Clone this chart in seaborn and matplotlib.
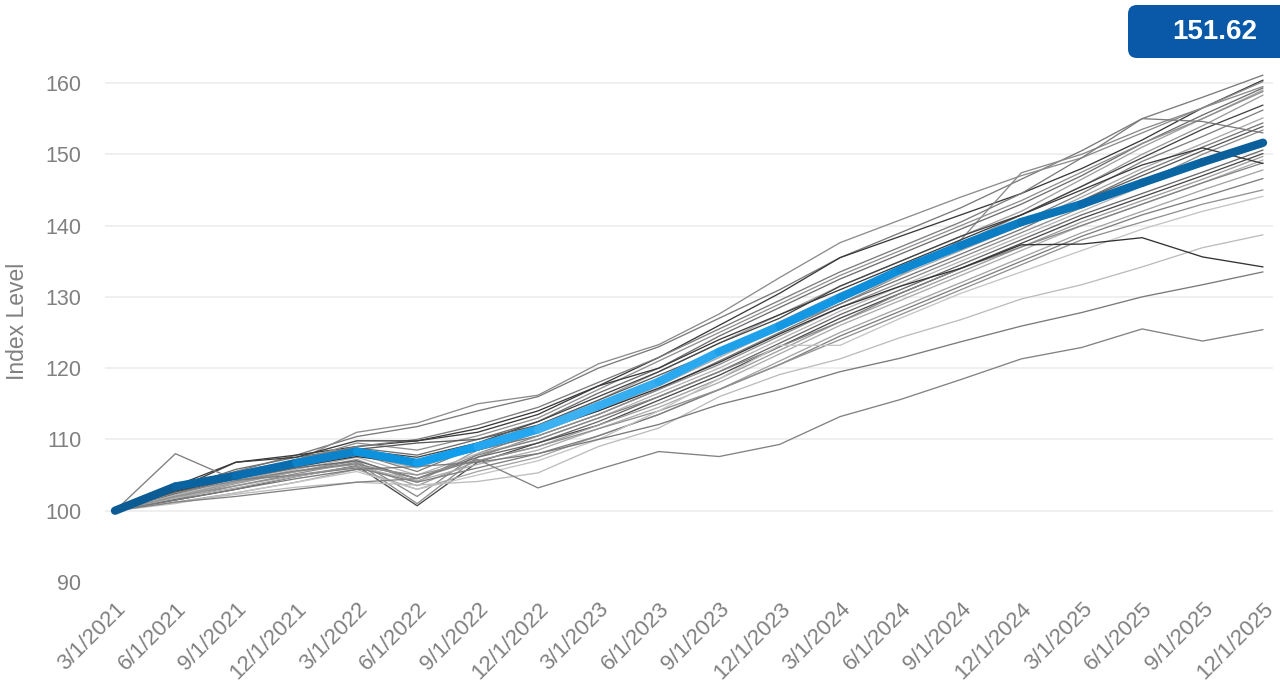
import numpy as np
import pandas as pd
import matplotlib
matplotlib.use("Agg")
import matplotlib.pyplot as plt
import seaborn as sns
from matplotlib.collections import LineCollection
from matplotlib.colors import LinearSegmentedColormap
from matplotlib.patches import FancyBboxPatch

# ---------------- data ----------------
dates = ["3/1/2021", "6/1/2021", "9/1/2021", "12/1/2021", "3/1/2022", "6/1/2022",
         "9/1/2022", "12/1/2022", "3/1/2023", "6/1/2023", "9/1/2023", "12/1/2023",
         "3/1/2024", "6/1/2024", "9/1/2024", "12/1/2024", "3/1/2025", "6/1/2025",
         "9/1/2025", "12/1/2025"]

index_level = [100, 103.4, 104.9, 106.7, 108.3, 106.7, 109.0, 111.4, 114.7, 118.1,
               122.3, 125.9, 129.9, 133.8, 137.2, 140.5, 143.0, 146.0, 148.9, 151.62]

peer_01 = [100, 102.8, 105.5, 107.8, 110.4, 111.8, 114.0, 116.0, 120.0, 123.0, 127.0, 131.0, 135.5, 139.0, 142.5, 146.5, 150.5, 155.0, 158.0, 161.1]
peer_02 = [100, 103.5, 106.8, 107.8, 109.0, 109.8, 111.5, 114.0, 117.5, 121.5, 126.0, 130.5, 135.5, 138.5, 141.5, 144.5, 148.0, 152.0, 156.5, 160.4]
peer_03 = [100, 102.5, 105.0, 107.0, 111.0, 112.3, 115.0, 116.2, 120.6, 123.3, 127.6, 132.7, 137.6, 140.8, 144.0, 147.0, 149.5, 153.0, 156.5, 160.2]
peer_04 = [100, 102.0, 104.0, 105.5, 107.0, 102.0, 108.0, 111.0, 115.0, 118.5, 122.0, 125.5, 129.0, 133.0, 138.0, 147.4, 150.0, 153.5, 156.5, 159.5]
peer_05 = [100, 103.0, 105.8, 107.5, 108.8, 107.8, 110.0, 112.5, 116.5, 120.0, 124.5, 128.5, 132.5, 136.0, 139.5, 143.0, 147.0, 151.5, 155.5, 159.3]
peer_06 = [100, 102.2, 104.5, 106.2, 108.0, 106.5, 109.5, 112.0, 115.5, 119.5, 123.5, 127.5, 131.5, 135.0, 138.5, 142.0, 146.5, 151.0, 155.0, 159.0]
peer_07 = [100, 103.2, 105.2, 107.0, 109.5, 108.5, 110.5, 113.0, 117.0, 121.0, 125.0, 129.0, 133.0, 136.5, 140.0, 143.5, 147.5, 151.5, 155.0, 158.8]
peer_08 = [100, 101.8, 103.8, 105.5, 107.2, 104.0, 108.5, 111.5, 115.0, 118.5, 122.5, 126.5, 130.5, 134.0, 137.5, 141.5, 145.5, 150.0, 154.0, 158.3]
peer_09 = [100, 102.6, 104.8, 106.5, 108.5, 107.5, 109.5, 112.5, 116.0, 119.5, 123.5, 127.0, 131.5, 135.0, 138.5, 141.5, 145.5, 149.5, 153.5, 156.9]
peer_10 = [100, 103.5, 105.5, 107.0, 108.0, 105.5, 109.0, 111.0, 114.5, 118.0, 122.0, 126.0, 130.0, 134.0, 137.0, 140.5, 144.5, 149.0, 152.5, 156.2]
peer_11 = [100, 102.0, 104.2, 106.0, 107.8, 106.0, 108.8, 111.0, 114.0, 117.5, 121.5, 125.5, 129.5, 133.0, 136.5, 140.0, 144.0, 148.0, 151.5, 155.1]
peer_12 = [100, 103.0, 105.0, 106.8, 108.2, 107.0, 108.5, 110.5, 113.5, 117.0, 121.0, 125.0, 129.0, 132.5, 136.0, 139.5, 143.5, 147.5, 151.0, 154.4]
peer_13 = [100, 102.4, 104.6, 106.5, 108.6, 109.5, 110.0, 112.0, 115.5, 119.0, 122.5, 126.0, 130.0, 133.5, 137.0, 140.0, 143.5, 147.0, 150.5, 153.9]
peer_14 = [100, 101.6, 103.5, 105.2, 106.8, 101.0, 107.5, 110.5, 113.5, 117.0, 120.5, 124.5, 128.5, 132.0, 135.5, 139.0, 142.5, 146.0, 150.0, 153.4]
peer_15 = [100, 103.0, 105.0, 107.2, 109.0, 110.0, 112.0, 114.5, 118.0, 121.5, 125.5, 129.5, 133.5, 137.0, 140.5, 144.5, 149.5, 155.0, 154.6, 153.0]
peer_16 = [100, 102.2, 104.0, 105.8, 107.5, 105.0, 108.0, 110.0, 113.0, 116.5, 120.0, 124.0, 128.0, 131.5, 135.0, 138.5, 142.0, 145.5, 148.5, 151.1]
peer_17 = [100, 102.8, 104.5, 106.0, 107.0, 104.5, 107.5, 109.5, 112.5, 116.0, 119.5, 123.5, 127.5, 131.0, 134.5, 138.0, 141.5, 144.5, 147.5, 150.6]
peer_18 = [100, 101.5, 103.0, 104.8, 106.3, 100.7, 106.8, 109.5, 112.0, 115.5, 119.0, 123.0, 127.0, 130.5, 134.0, 137.5, 141.0, 144.0, 147.0, 150.1]
peer_19 = [100, 102.0, 104.0, 105.5, 106.5, 103.5, 107.0, 109.0, 112.0, 115.0, 118.5, 122.5, 126.5, 130.0, 133.5, 137.0, 140.5, 143.5, 146.5, 149.7]
peer_20 = [100, 101.8, 103.2, 104.8, 106.2, 104.2, 106.5, 108.5, 111.5, 114.5, 118.0, 122.0, 126.0, 129.5, 133.0, 136.5, 140.0, 143.0, 146.0, 149.2]
peer_21 = [100, 102.5, 104.2, 105.6, 106.6, 104.5, 107.8, 110.0, 113.0, 116.0, 119.5, 123.0, 126.5, 130.5, 134.0, 137.0, 140.0, 143.0, 146.0, 148.8]
peer_22 = [100, 103.0, 106.8, 107.5, 109.8, 109.8, 111.0, 113.5, 117.5, 120.0, 124.0, 127.5, 131.0, 134.5, 138.0, 141.5, 145.0, 148.5, 150.9, 148.7]
peer_23 = [100, 101.2, 102.5, 104.0, 105.8, 103.0, 105.5, 107.5, 110.5, 113.5, 117.0, 121.0, 125.0, 128.5, 132.0, 135.5, 139.0, 142.0, 145.0, 147.8]
peer_24 = [100, 108.0, 104.3, 105.0, 106.0, 104.0, 106.0, 108.0, 110.5, 113.5, 117.0, 120.5, 124.5, 128.0, 131.5, 135.0, 138.5, 141.5, 144.0, 146.6]
peer_25 = [100, 102.0, 103.5, 105.0, 106.2, 105.0, 107.0, 109.0, 111.5, 114.0, 117.0, 120.5, 124.0, 127.5, 131.0, 134.5, 138.0, 140.5, 143.0, 145.0]
peer_26 = [100, 101.0, 102.5, 104.0, 105.5, 103.0, 105.0, 107.0, 110.0, 114.0, 118.5, 123.2, 123.2, 127.0, 130.5, 133.5, 136.5, 139.5, 142.0, 144.1]
peer_27 = [100, 101.2, 102.3, 103.3, 104.0, 103.6, 104.1, 105.3, 109.0, 111.6, 116.0, 119.1, 121.3, 124.3, 126.8, 129.7, 131.7, 134.2, 136.9, 138.7]
peer_28 = [100, 102.8, 104.6, 106.2, 107.6, 106.5, 108.5, 111.2, 114.0, 117.2, 120.8, 124.8, 128.5, 131.5, 134.0, 137.3, 137.4, 138.3, 135.6, 134.2]
peer_29 = [100, 101.5, 103.0, 104.5, 105.8, 106.2, 106.8, 108.0, 110.0, 112.1, 114.9, 117.0, 119.5, 121.4, 123.7, 125.9, 127.8, 130.0, 131.7, 133.5]
peer_30 = [100, 101.2, 102.0, 103.0, 104.0, 104.5, 107.2, 103.2, 105.8, 108.3, 107.6, 109.3, 113.2, 115.6, 118.4, 121.3, 122.9, 125.5, 123.8, 125.4]

peers = [peer_01, peer_02, peer_03, peer_04, peer_05, peer_06, peer_07, peer_08, peer_09, peer_10,
         peer_11, peer_12, peer_13, peer_14, peer_15, peer_16, peer_17, peer_18, peer_19, peer_20,
         peer_21, peer_22, peer_23, peer_24, peer_25, peer_26, peer_27, peer_28, peer_29, peer_30]

y_ticks = [90, 100, 110, 120, 130, 140, 150, 160]
latest_label = "151.62"
y_title = "Index Level"

# ---------------- styles ----------------
gray_colors = ["#7a7a7a", "#3a3a3a", "#8c8c8c", "#8a8a8a", "#6e6e6e", "#a0a0a0", "#909090", "#9a9a9a",
               "#454545", "#808080", "#a8a8a8", "#777777", "#5a5a5a", "#8e8e8e", "#7c7c7c", "#b4b4b4",
               "#6a6a6a", "#4a4a4a", "#9c9c9c", "#acacac", "#848484", "#3c3c3c", "#a4a4a4", "#7e7e7e",
               "#929292", "#c4c4c4", "#bcbcbc", "#333333", "#7a7a7a", "#828282"]
text_color = "#808080"

sns.set_theme(style="white")
plt.rcParams["font.family"] = ["Liberation Sans", "DejaVu Sans"]

W, H = 1280, 685
fig = plt.figure(figsize=(W / 100, H / 100), dpi=100)
ax_left, ax_right = 105, 1273
ax_top, ax_bottom = 61.6, 582
ax = fig.add_axes([ax_left / W, 1 - ax_bottom / H, (ax_right - ax_left) / W, (ax_bottom - ax_top) / H])

x = np.arange(len(dates))
long = pd.DataFrame({
    "x": np.tile(x, len(peers)),
    "value": np.concatenate([np.asarray(p, float) for p in peers]),
    "series": np.repeat([f"p{i:02d}" for i in range(len(peers))], len(dates)),
})
sns.lineplot(data=long, x="x", y="value", hue="series", palette=gray_colors,
             linewidth=0.95, legend=False, ax=ax, sort=False, zorder=2)

# gradient highlighted index line
blue_cmap = LinearSegmentedColormap.from_list("idx", [
    (0.00, "#0b5790"), (0.12, "#0a6aaa"), (0.22, "#0c8fda"), (0.30, "#12a0ee"),
    (0.40, "#3db2f2"), (0.50, "#2aa8f0"), (0.62, "#0f96e4"), (0.75, "#0a80c8"),
    (0.86, "#096cae"), (1.00, "#0b5c96")])
pts = np.column_stack([x, np.asarray(index_level, float)])
segs = np.stack([pts[:-1], pts[1:]], axis=1)
mids = (x[:-1] + 0.5) / (len(x) - 1)
lc = LineCollection(segs, colors=blue_cmap(mids), linewidths=6.0, capstyle="round",
                    joinstyle="round", zorder=5)
ax.add_collection(lc)

# axes styling
ax.set_xlim(-(10 / 60.4), len(dates) - 1 + 10 / 60.4)
ax.set_ylim(90, 163)
ax.set_yticks(y_ticks)
ax.set_xticks(x)
ax.set_xticklabels(dates, rotation=45, ha="right", va="top", rotation_mode="anchor")
ax.tick_params(axis="x", length=0, pad=12, labelsize=16, labelcolor=text_color)
ax.tick_params(axis="y", length=0, pad=17, labelsize=15.5, labelcolor=text_color)
ax.set_xlabel("")
ax.set_ylabel(y_title, fontsize=16.5, color=text_color)
ax.yaxis.set_label_coords((29 - ax_left) / (ax_right - ax_left), 0.5)
for s in ax.spines.values():
    s.set_visible(False)
ax.grid(axis="y", color="#ececec", linewidth=1.2, zorder=0)
ax.grid(axis="x", visible=False)
ax.set_axisbelow(True)
ygl = ax.get_ygridlines()
ygl[0].set_visible(False)

# value badge in upper-right
bx0, by0, bx1, by1 = 1128, 5, 1300, 58
badge = FancyBboxPatch((bx0 / W, 1 - by1 / H), (bx1 - bx0) / W, (by1 - by0) / H,
                       boxstyle="round,pad=0,rounding_size=0.007", transform=fig.transFigure,
                       facecolor="#0a58a8", edgecolor="none", zorder=10, mutation_aspect=W / H)
fig.patches.append(badge)
fig.text(1215 / W, 1 - 32 / H, latest_label, ha="center", va="center", color="white",
         fontsize=20, fontweight="bold", zorder=11)

fig.savefig("out.png", dpi=100)
